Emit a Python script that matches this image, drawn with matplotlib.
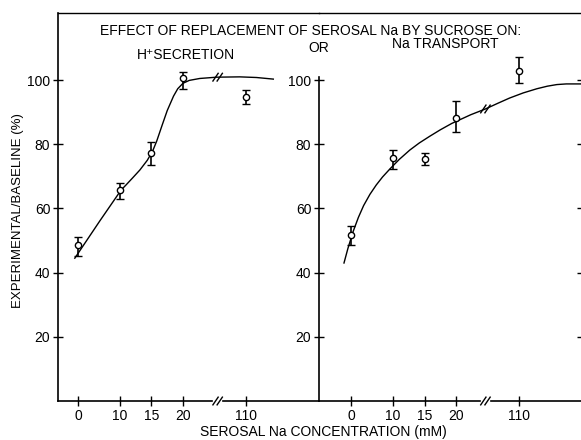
import numpy as np
import matplotlib
matplotlib.use("Agg")
import matplotlib.pyplot as plt

plt.rcParams["font.family"] = ["Liberation Sans", "DejaVu Sans"]

# x axis is broken: concentrations are placed at fixed tick slots
conc_labels = ["0", "10", "15", "20", "110"]
tick_pos = [0, 4, 7, 10, 16]
y_ticks = [20, 40, 60, 80, 100]

# H+ secretion (left panel): mean and error bar ends, % of baseline
h_mean = [48.6, 65.7, 77.3, 100.6, 94.7]
h_hi = [51.1, 67.9, 80.7, 102.5, 96.9]
h_lo = [45.2, 62.9, 73.5, 97.2, 92.5]

# Na transport (right panel)
na_mean = [51.7, 75.7, 75.4, 88.2, 102.8]
na_hi = [54.5, 78.2, 77.3, 93.5, 107.2]
na_lo = [48.6, 72.3, 73.5, 83.8, 99.0]

# hand-drawn fitted curves (x in tick-slot units)
h_curve_x = [-0.3, 2.1, 4.1, 4.6, 5.2, 5.9, 6.6, 7.1, 7.5, 8.0, 8.5, 9.1, 9.5,
             10.0, 10.6, 11.6, 13.2, 15.4, 17.0, 18.6]
h_curve_y = [44.5, 56.2, 65.7, 67.4, 69.5, 72.0, 75.0, 77.8, 81.0, 85.8, 90.5,
             95.0, 97.3, 99.0, 99.9, 100.5, 100.9, 101.0, 100.8, 100.3]
na_curve_x = [-0.67, -0.3, 0.2, 0.7, 1.2, 1.8, 2.4, 3.0, 3.7, 4.6, 5.6, 6.5,
              7.5, 8.5, 9.6, 11.4, 12.8, 14.0, 15.1, 16.4, 17.7, 18.7, 19.6,
              20.5, 21.9]
na_curve_y = [43.0, 47.5, 52.8, 57.2, 60.9, 64.4, 67.3, 69.8, 72.3, 75.3, 78.2,
              80.4, 82.5, 84.5, 86.5, 89.2, 91.0, 92.8, 94.4, 96.0, 97.3, 98.1,
              98.6, 98.8, 98.8]

W, H = 581, 440
LW = 1.0
YMAX = 120.9


def fx(px):
    return px / W


def fy(py):
    return 1 - py / H


def slashes(ax, x, y):
    for dx in (-0.2, 0.2):
        ax.plot([x + dx - 0.25, x + dx + 0.25], [y - 1.2, y + 1.2],
                color="black", lw=LW, clip_on=False, zorder=5)


def panel(ax, xlim, mean, hi, lo, cx, cy, brk, axis_top=None):
    ax.set_xlim(*xlim)
    ax.set_ylim(0, YMAX)
    ax.set_xticks(tick_pos)
    ax.set_xticklabels(conc_labels)
    ax.set_yticks(y_ticks)
    ax.tick_params(direction="inout", length=7, width=LW, labelsize=10, pad=2,
                   color="black")
    for s in ("right", "bottom"):
        ax.spines[s].set_visible(False)
    ax.spines["left"].set_linewidth(1.2)
    ax.spines["top"].set_linewidth(1.0)
    if axis_top is not None:
        ax.spines["left"].set_bounds(0, axis_top)

    # broken x axis line
    ax.plot([xlim[0], brk - 0.55], [0, 0], color="black", lw=1.2, clip_on=False)
    ax.plot([brk + 0.55, xlim[1]], [0, 0], color="black", lw=1.2, clip_on=False)
    slashes(ax, brk, 0)

    ax.plot(cx, cy, color="black", lw=LW, solid_joinstyle="round")
    slashes(ax, brk, float(np.interp(brk, cx, cy)))

    m = np.array(mean)
    yerr = [m - np.array(lo), np.array(hi) - m]
    ax.errorbar(tick_pos, mean, yerr=yerr, fmt="o", mfc="white", mec="black",
                ms=4.5, mew=1.0, ecolor="black", elinewidth=1.2, capsize=3,
                capthick=1.0, zorder=6)


fig = plt.figure(figsize=(W / 100, H / 100), dpi=100)
bottom = fy(401)
height = (401 - 13) / H

ax1 = fig.add_axes([fx(58), bottom, fx(319 - 58), height])
ax2 = fig.add_axes([fx(319), bottom, fx(W - 319), height])
for a in (ax1, ax2):
    a.patch.set_alpha(0)

panel(ax1, (-1.9, 22.95), h_mean, h_hi, h_lo, h_curve_x, h_curve_y, 13.3)
panel(ax2, (-3.05, 21.9), na_mean, na_hi, na_lo, na_curve_x, na_curve_y, 12.8,
      axis_top=101)

# tick stubs of the next (cropped) panel at the right edge
ax3 = ax2.twinx()
ax3.set_ylim(0, YMAX)
ax3.set_yticks(y_ticks)
ax3.set_yticklabels([])
ax3.tick_params(direction="in", length=3, width=LW)
for s in ax3.spines.values():
    s.set_visible(False)

fig.text(fx(311), fy(31), "EFFECT OF REPLACEMENT OF SEROSAL Na BY SUCROSE ON:",
         ha="center", va="center", fontsize=10)
fig.text(fx(137), fy(55), "H\u207aSECRETION", ha="left", va="center", fontsize=10)
fig.text(fx(308), fy(48), "OR", ha="left", va="center", fontsize=10)
fig.text(fx(392), fy(44), "Na TRANSPORT", ha="left", va="center", fontsize=10)
fig.text(fx(18), fy(211), "EXPERIMENTAL/BASELINE (%)", rotation=90,
         ha="center", va="center", fontsize=9.5)
fig.text(fx(323), fy(432), "SEROSAL Na CONCENTRATION (mM)", ha="center",
         va="center", fontsize=10)

fig.savefig("out.png", dpi=100)
